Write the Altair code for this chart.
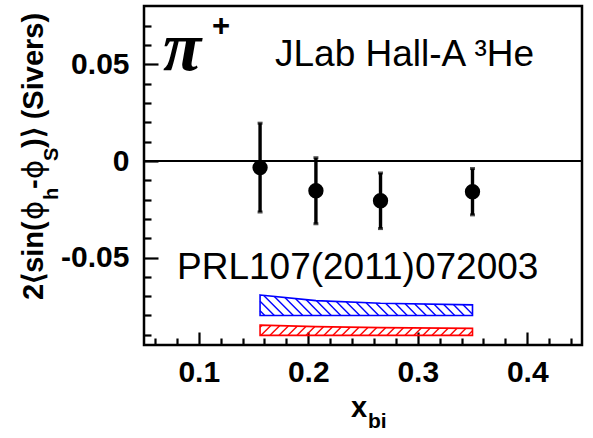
import altair as alt
import pandas as pd
import numpy as np

# ---------------- data ----------------
x_bins = [0.156, 0.207, 0.266, 0.350]
asym = [-0.0034, -0.0154, -0.0206, -0.0159]
asym_err = [0.0230, 0.0171, 0.0144, 0.0120]

band_x = [0.156, 0.207, 0.266, 0.350]
blue_top = [-0.0694, -0.0723, -0.0737, -0.0745]
blue_bottom = [-0.0800, -0.0800, -0.0800, -0.0800]
red_top = [-0.0850, -0.0858, -0.0863, -0.0867]
red_bottom = [-0.0903, -0.0903, -0.0903, -0.0903]

x_major = [0.1, 0.2, 0.3, 0.4]
x_minor = [0.06, 0.08, 0.12, 0.14, 0.16, 0.18, 0.22, 0.24, 0.26, 0.28,
           0.32, 0.34, 0.36, 0.38, 0.42, 0.44]
y_major = [-0.05, 0.0, 0.05]
y_minor = [-0.09, -0.08, -0.07, -0.06, -0.04, -0.03, -0.02, -0.01,
           0.01, 0.02, 0.03, 0.04, 0.06, 0.07]

x_domain = [0.05, 0.45]
y_domain = [-0.0953, 0.0803]

# ---------------- layout ----------------
W, H = 438, 339
LEFT, TOP = 144, 6

pts = pd.DataFrame({"x": x_bins, "y": asym, "err": asym_err})
pts["lo"] = pts["y"] - pts["err"]
pts["hi"] = pts["y"] + pts["err"]

xs = alt.Scale(domain=x_domain, nice=False, zero=False)
ys = alt.Scale(domain=y_domain, nice=False, zero=False)


def px(x):
    return (x - x_domain[0]) / (x_domain[1] - x_domain[0]) * W


def py(y):
    return (y - y_domain[0]) / (y_domain[1] - y_domain[0]) * H


def ix(u):
    return x_domain[0] + u / W * (x_domain[1] - x_domain[0])


def iy(v):
    return y_domain[0] + v / H * (y_domain[1] - y_domain[0])


def hatch(xv, top, bottom, spacing, slope, name):
    u = np.linspace(px(xv[0]), px(xv[-1]), 3000)
    ux = [px(a) for a in xv]
    vt = np.interp(u, ux, [py(a) for a in top])
    vb = np.interp(u, ux, [py(a) for a in bottom])
    cmin = (vb - slope * u).min()
    cmax = (vt - slope * u).max()
    rows = []
    for i, c in enumerate(np.arange(cmin + spacing / 2, cmax, spacing)):
        v = slope * u + c
        m = (v >= vb) & (v <= vt)
        if m.sum() < 2:
            continue
        ua, ub = u[m][0], u[m][-1]
        rows.append({"x": ix(ua), "y": iy(slope * ua + c),
                     "x2": ix(ub), "y2": iy(slope * ub + c), "id": f"{name}{i}"})
    return pd.DataFrame(rows)


bands = pd.DataFrame({"x": band_x, "bt": blue_top, "bb": blue_bottom,
                      "rt": red_top, "rb": red_bottom})

blue_h = hatch(band_x, blue_top, blue_bottom, 9.5, -1.0, "b")
red_h = hatch(band_x, red_top, red_bottom, 9.0, 1.0, "r")

FONT = "Liberation Sans"

# axis carriers
lab_layer = alt.Chart(pts).mark_point(opacity=0).encode(
    x=alt.X("x:Q", scale=xs, axis=alt.Axis(
        orient="bottom", values=x_major, ticks=False, tickSize=0, domain=False,
        grid=False, labelPadding=12, labelFontSize=30, labelFont=FONT,
        labelFontWeight="bold", labelColor="black", format=".1f",
        labelOverlap=False, labelFlush=False, title=None)),
    y=alt.Y("y:Q", scale=ys, axis=alt.Axis(
        orient="left", values=y_major, ticks=False, tickSize=0, domain=False,
        grid=False, labelPadding=15, labelFontSize=30, labelFont=FONT,
        labelFontWeight="bold", labelColor="black",
        labelExpr="datum.value == 0 ? '0' : (datum.value < 0 ? '-' + format(-datum.value, '.2f') : format(datum.value, '.2f'))",
        labelOverlap=False, labelFlush=False, title=None)),
)

major_ticks = alt.Chart(pts).mark_point(opacity=0).encode(
    x=alt.X("x:Q", scale=xs, axis=alt.Axis(
        orient="top", offset=-H, values=x_major, labels=False, tickSize=13,
        tickWidth=2.2, tickColor="black", domain=False, grid=False, title=None)),
    y=alt.Y("y:Q", scale=ys, axis=alt.Axis(
        orient="right", offset=-W, values=y_major, labels=False, tickSize=14,
        tickWidth=2.2, tickColor="black", domain=False, grid=False, title=None)),
)

minor_ticks = alt.Chart(pts).mark_point(opacity=0).encode(
    x=alt.X("x:Q", scale=xs, axis=alt.Axis(
        orient="top", offset=-H, values=x_minor, labels=False, tickSize=7,
        tickWidth=2.2, tickColor="black", domain=False, grid=False, title=None)),
    y=alt.Y("y:Q", scale=ys, axis=alt.Axis(
        orient="right", offset=-W, values=y_minor, labels=False, tickSize=7,
        tickWidth=2.2, tickColor="black", domain=False, grid=False, title=None)),
)

zero = alt.Chart(pts).mark_rule(color="black", strokeWidth=2).encode(
    y=alt.Y("z:Q", scale=ys, axis=None)
).transform_calculate(z="0")

bars = alt.Chart(pts).mark_rule(color="black", strokeWidth=3.4).encode(
    x=alt.X("x:Q", scale=xs, axis=None),
    y=alt.Y("lo:Q", scale=ys, axis=None),
    y2="hi:Q",
)
cap_lo = alt.Chart(pts).mark_tick(color="black", orient="horizontal", size=5, thickness=3).encode(
    x=alt.X("x:Q", scale=xs, axis=None), y=alt.Y("lo:Q", scale=ys, axis=None))
cap_hi = alt.Chart(pts).mark_tick(color="black", orient="horizontal", size=5, thickness=3).encode(
    x=alt.X("x:Q", scale=xs, axis=None), y=alt.Y("hi:Q", scale=ys, axis=None))
dots = alt.Chart(pts).mark_circle(color="black", size=235, opacity=1).encode(
    x=alt.X("x:Q", scale=xs, axis=None), y=alt.Y("y:Q", scale=ys, axis=None))

blue_area = alt.Chart(bands).mark_area(fillOpacity=0, stroke="#0000ff", strokeWidth=1.6).encode(
    x=alt.X("x:Q", scale=xs, axis=None), y=alt.Y("bt:Q", scale=ys, axis=None), y2="bb:Q")
red_area = alt.Chart(bands).mark_area(fillOpacity=0, stroke="#ff0000", strokeWidth=1.6).encode(
    x=alt.X("x:Q", scale=xs, axis=None), y=alt.Y("rt:Q", scale=ys, axis=None), y2="rb:Q")
blue_lines = alt.Chart(blue_h).mark_rule(color="#0000ff", strokeWidth=1.4).encode(
    x=alt.X("x:Q", scale=xs, axis=None), y=alt.Y("y:Q", scale=ys, axis=None),
    x2="x2:Q", y2="y2:Q", detail="id:N")
red_lines = alt.Chart(red_h).mark_rule(color="#ff0000", strokeWidth=1.4).encode(
    x=alt.X("x:Q", scale=xs, axis=None), y=alt.Y("y:Q", scale=ys, axis=None),
    x2="x2:Q", y2="y2:Q", detail="id:N")


def txt(text, x, y, size, weight="normal", font=FONT, style="normal", angle=0):
    return alt.Chart(pd.DataFrame({"t": [text]})).mark_text(
        align="left", baseline="alphabetic", fontSize=size, fontWeight=weight,
        font=font, fontStyle=style, angle=angle, color="black"
    ).encode(x=alt.value(x - LEFT), y=alt.value(y - TOP), text="t:N")


texts = [
    txt("π", 163, 70, 70, weight="bold", font="Liberation Serif", style="italic"),
    txt("+", 212, 36, 31, weight="bold"),
    txt("JLab Hall-A ³He", 275, 66, 37),
    txt("PRL107(2011)072003", 177, 279, 37),
    # x title
    txt("x", 351, 417, 29, weight="bold"),
    txt("bi", 368, 428, 21, weight="bold"),
    # y title (rotated)
    txt("2⟨sin(", 43, 300, 29, weight="bold", angle=270),
    txt("ϕ", 43, 220, 29, font="DejaVu Sans", angle=270),
    txt("h", 58, 200, 20, weight="bold", angle=270),
    txt("-", 43, 189, 29, weight="bold", angle=270),
    txt("ϕ", 43, 179, 29, font="DejaVu Sans", angle=270),
    txt("S", 58, 161, 20, weight="bold", angle=270),
    txt(")⟩ (Sivers)", 43, 148, 29, weight="bold", angle=270),
]

chart = alt.layer(
    lab_layer, major_ticks, minor_ticks,
    blue_area, blue_lines, red_area, red_lines,
    zero, bars, cap_lo, cap_hi, dots, *texts
).resolve_axis(x="independent", y="independent").properties(
    width=W, height=H,
    padding={"left": LEFT, "top": TOP, "right": 593 - LEFT - W, "bottom": 438 - TOP - H},
    autosize=alt.AutoSizeParams(type="none"),
    background="white",
).configure_view(stroke="black", strokeWidth=2.5)

chart.save("out.html", embed_options={"renderer": "svg", "actions": False})
